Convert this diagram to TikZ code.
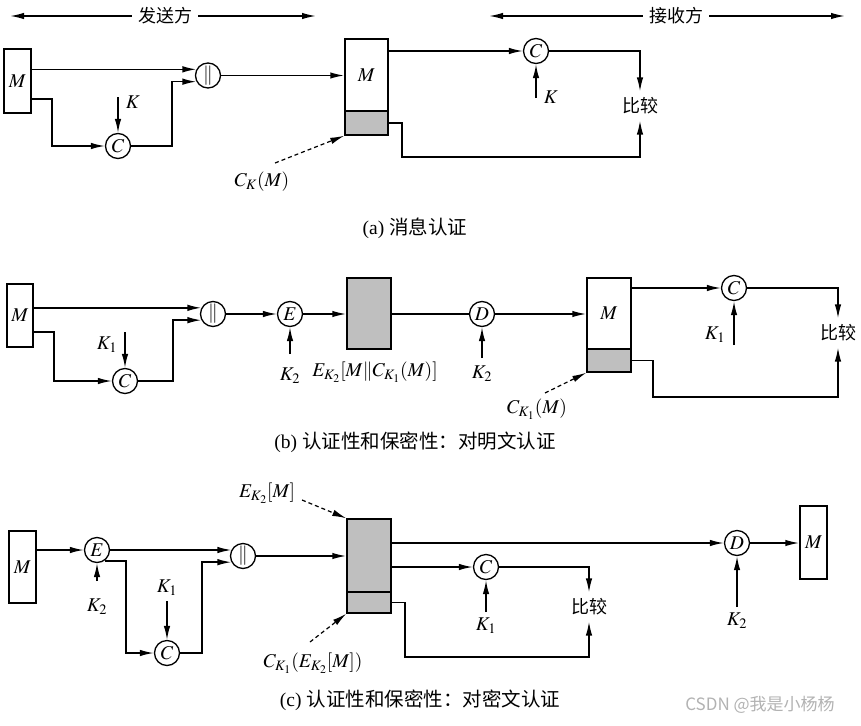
\documentclass[tikz,border=0pt]{standalone}
\usepackage{mathptmx}
\usepackage{fontspec}
\setmainfont{Liberation Serif}
\newfontfamily\cjk{Noto Sans CJK SC}
\usetikzlibrary{arrows.meta}
\begin{document}
\begin{tikzpicture}[x=1pt,y=-1pt, font=\fontsize{19.5}{22}\selectfont,
 box/.style={draw, line width=1.5pt, inner sep=0pt, fill=white},
 gbox/.style={box, fill=gray!50},
 circ/.style={draw, circle, minimum size=25pt, inner sep=0pt, line width=1.3pt, fill=white},
 arr/.style={-{Latex[length=14pt,width=6.5pt]}, line width=1.5pt},
 ln/.style={line width=1.5pt},
 dsh/.style={arr, line width=1.2pt, dash pattern=on 4pt off 3pt},
 cn/.style={font=\cjk\fontsize{18}{20}\selectfont, inner sep=6pt}]
\useasboundingbox (0,0) rectangle (861,725);

% ---------- headers
\node[cn] (send) at (165,16) {发送方};
\coordinate (s0) at (10,16); \coordinate (s1) at (316,16);
\draw[arr] (send) -- (s0); \draw[arr] (send) -- (s1);
\node[cn] (recv) at (676,16) {接收方};
\coordinate (r0) at (489,16); \coordinate (r1) at (845,16);
\draw[arr] (recv) -- (r0); \draw[arr] (recv) -- (r1);

% ---------- (a)
\node[box, minimum width=27pt, minimum height=64pt] (mA) at (17.5,81) {$M$};
\node[circ] (parA) at (208,75.5) {$\|$};
\node[circ] (cA) at (118,146) {$C$};
\coordinate (a1) at (52,99);
\coordinate (a2) at (172,0);
\coordinate (ka) at (118,97);
\node (kAl) at (133,102) {$K$};
\draw[arr] (mA.east |- parA.152) -- (parA.152);
\draw[arr] (mA.east |- a1) -- (a1) |- (cA);
\draw[arr] (cA) -| (a2 |- parA.208) -- (parA.208);
\draw[arr] (ka) -- (cA);
\node[box, minimum width=43pt, minimum height=72pt] (rA) at (366.5,75) {$M$};
\node[gbox, minimum width=43pt, minimum height=24pt] (rAs) at (366.5,123) {};
\draw[arr] (parA) -- (rA.west |- parA);
\node (ckA) at (262,182) {$C_K(M)$};
\coordinate (da) at (275,163);
\draw[dsh] (da) -- (rAs.south west);
\node[circ] (cA2) at (536,51) {$C$};
\draw[arr] (rA.east |- cA2) -- (cA2);
\node[cn] (cmpA) at (640,106) {比较};
\draw[arr] (cA2) -| (cmpA.north);
\coordinate (ka2) at (536,98);
\draw[arr] (ka2) -- (cA2);
\node (kA2l) at (551,97) {$K$};
\coordinate (a3) at (402,157);
\draw[arr] (rAs.east) -| (a3) -| (cmpA.south);
\node (capA) at (415,228) {(a) {\cjk 消息认证}};

% ---------- (b)
\node[box, minimum width=26pt, minimum height=63pt] (mB) at (20,315.5) {$M$};
\node[circ] (parB) at (213,314) {$\|$};
\node[circ] (cB) at (125,381) {$C$};
\coordinate (b1) at (54,332); \coordinate (b2) at (173,0);
\coordinate (kb) at (125,332);
\node (kBl) at (107,345) {$K_1$};
\draw[arr] (mB.east |- parB.152) -- (parB.152);
\draw[arr] (mB.east |- b1) -- (b1) |- (cB);
\draw[arr] (cB) -| (b2 |- parB.208) -- (parB.208);
\draw[arr] (kb) -- (cB);
\node[circ] (eB) at (290,314) {$E$};
\draw[arr] (parB) -- (eB);
\coordinate (keb) at (290,354);
\draw[arr] (keb) -- (eB);
\node (keBl) at (290,376) {$K_2$};
\node[gbox, minimum width=44pt, minimum height=71pt] (gB) at (369,313.5) {};
\draw[arr] (eB) -- (gB.west |- eB);
\node (eBl) at (375,372) {$E_{K_2}[M\|C_{K_1}(M)]$};
\node[circ] (dB) at (482,314) {$D$};
\draw[ln] (gB.east |- dB) -- (dB);
\coordinate (kdb) at (482,358);
\draw[arr] (kdb) -- (dB);
\node (kdBl) at (482,374) {$K_2$};
\node[box, minimum width=44pt, minimum height=71pt] (rB) at (609,313.5) {$M$};
\node[gbox, minimum width=44pt, minimum height=23pt] (rBs) at (609,360.5) {};
\draw[arr] (dB) -- (rB.west |- dB);
\coordinate (db) at (545,393);
\draw[dsh] (db) -- (rBs.south west);
\node (ckB) at (537,409) {$C_{K_1}(M)$};
\node[circ] (cB2) at (734,288) {$C$};
\draw[arr] (rB.east |- cB2) -- (cB2);
\coordinate (kb2) at (734,345);
\draw[arr] (kb2) -- (cB2);
\node (kB2l) at (715,335) {$K_1$};
\node[cn] (cmpB) at (838,333) {比较};
\draw[arr] (cB2) -| (cmpB.north);
\coordinate (b3) at (653,397);
\draw[arr] (rBs.east) -| (b3) -| (cmpB.south);
\node (capB) at (415,442) {(b) {\cjk 认证性和保密性：对明文认证}};

% ---------- (c)
\node[box, minimum width=27pt, minimum height=72pt] (mC) at (22.5,567) {$M$};
\node[circ] (eC) at (97,550) {$E$};
\draw[arr] (mC.east |- eC) -- (eC);
\coordinate (kec) at (97,581);
\draw[arr] (kec) -- (eC);
\node (keCl) at (97,607) {$K_2$};
\node[circ] (parC) at (243,556) {$\|$};
\draw[arr] (eC) -- (eC -| parC.152);
\node[circ] (cC) at (167,653) {$C$};
\coordinate (c1) at (126,0); \coordinate (c2) at (202,0);
\draw[arr] (eC.-55) -| (c1 |- cC) -- (cC);
\coordinate (kc) at (167,601);
\draw[arr] (kc) -- (cC);
\node (kCl) at (167,588) {$K_1$};
\draw[arr] (cC) -| (c2 |- parC.208) -- (parC.208);
\node[gbox, minimum width=44pt, minimum height=73pt] (gC) at (369,555.5) {};
\node[gbox, minimum width=44pt, minimum height=21pt] (gCs) at (369,602.5) {};
\draw[arr] (parC) -- (gC.west |- parC);
\coordinate (dc1) at (302,500);
\draw[dsh] (dc1) -- (gC.north west);
\node (ekC) at (267,493) {$E_{K_2}[M]$};
\coordinate (dc2) at (310,642);
\draw[dsh] (dc2) -- (gCs.south west);
\node (ckC) at (313,663) {$C_{K_1}(E_{K_2}[M])$};
\node[circ] (dC) at (737,543) {$D$};
\draw[arr] (gC.east |- dC) -- (dC);
\node[box, minimum width=27pt, minimum height=73pt] (mC2) at (813.5,542.5) {$M$};
\draw[arr] (dC) -- (mC2.west |- dC);
\coordinate (kdc) at (737,607);
\draw[arr] (kdc) -- (dC);
\node (kdCl) at (737,621) {$K_2$};
\node[circ] (cC2) at (486,567) {$C$};
\draw[arr] (gC.east |- cC2) -- (cC2);
\coordinate (kc2) at (486,612);
\draw[arr] (kc2) -- (cC2);
\node (kC2l) at (486,626) {$K_1$};
\node[cn] (cmpC) at (589,607) {比较};
\draw[arr] (cC2) -| (cmpC.north);
\coordinate (c3) at (405,657);
\draw[arr] (gCs.east) -| (c3) -| (cmpC.south);
\node (capC) at (420,700) {(c) {\cjk 认证性和保密性：对密文认证}};
\node[font=\cjk\fontsize{17}{20}\selectfont, text=gray!60] (wm) at (760,705) {CSDN @我是小杨杨};
\end{tikzpicture}
\end{document}
